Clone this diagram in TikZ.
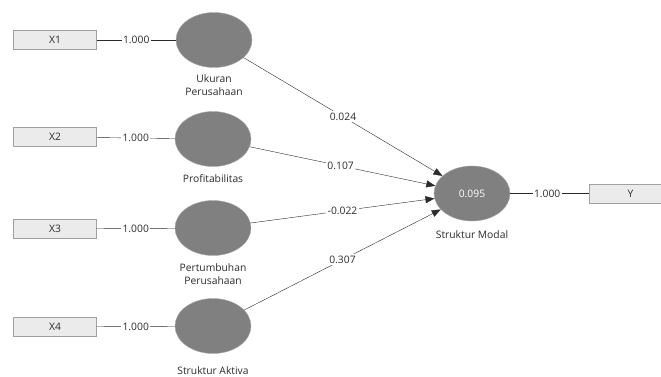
\documentclass[tikz,border=0pt]{standalone}
\usepackage{fontspec}
\setmainfont{Open Sans}
\usetikzlibrary{positioning,shapes.geometric,arrows.meta}
\definecolor{Lat}{HTML}{808080}
\definecolor{LatRim}{HTML}{A6A6A6}
\definecolor{BoxFill}{HTML}{EBEBEB}
\definecolor{BoxRim}{HTML}{A0A0A0}
\definecolor{Ink}{HTML}{2B2B2B}

\begin{document}
\begin{tikzpicture}[x=1pt,y=-1pt,every node/.style={font=\fontsize{10.3}{12.5}\selectfont,text=Ink},
  latent/.style={ellipse,fill=Lat,draw=LatRim,minimum width=76pt,minimum height=55pt,inner sep=0pt},
  indic/.style={rectangle,fill=BoxFill,draw=BoxRim,minimum width=83pt,minimum height=19pt},
  latname/.style={align=center,inner sep=0pt},
  wt/.style={fill=white,inner sep=1.5pt},
  coefline/.style={draw=Ink,-{Triangle[length=9pt,width=7pt]}}]
\useasboundingbox (0,0) rectangle (661,376);
\fill[white] (0,0) rectangle (661,376);
% latent variables
\node[latent] (uk) at (214,40) {};
\node[latent] (pr) at (213,139) {};
\node[latent] (pt) at (213,228) {};
\node[latent] (sa) at (213,326) {};
\node[latent] (sm) at (472,193.5) {\textcolor{white}{0.095}};
\node[latname,below=7pt of uk] (ukl) {Ukuran\\Perusahaan};
\node[latname,below=8pt of pr] (prl) {Profitabilitas};
\node[latname,below=8pt of pt] (ptl) {Pertumbuhan\\Perusahaan};
\node[latname,below=13pt of sa] (sal) {Struktur Aktiva};
\node[latname,below=9pt of sm] (sml) {Struktur Modal};
% indicators
\node[indic] (x1) at (55,40) {X1};
\node[indic] (x2) at (55,137) {X2};
\node[indic] (x3) at (55,229) {X3};
\node[indic] (x4) at (55,327) {X4};
\node[indic] (y) at (630.5,193.5) {Y};
% loadings
\draw[Ink] (x1) -- node[wt] (l1) {1.000} (uk);
\draw[Ink] (x2) -- node[wt] (l2) {1.000} (pr);
\draw[Ink] (x3) -- node[wt] (l3) {1.000} (pt);
\draw[Ink] (x4) -- node[wt] (l4) {1.000} (sa);
\draw[Ink] (sm) -- node[wt,pos=0.47] (ly) {1.000} (y);
% path coefficients
\path[coefline] (uk) -- node[wt,pos=0.5] (c1) {0.024} (sm);
\path[coefline] (pr) -- node[wt,pos=0.49] (c2) {0.107} (sm);
\path[coefline] (pt) -- node[wt,pos=0.5] (c3) {-0.022} (sm);
\path[coefline] (sa) -- node[wt,pos=0.5] (c4) {0.307} (sm);
\end{tikzpicture}
\end{document}
